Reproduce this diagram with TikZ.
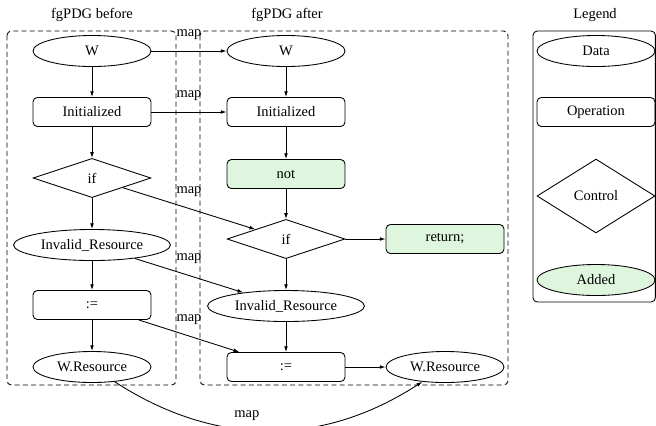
\documentclass[tikz,border=0pt]{standalone}
\usepackage{fontspec}
\setmainfont{Liberation Serif}
\usetikzlibrary{shapes.geometric,arrows.meta}
\definecolor{addgreen}{RGB}{221,246,221}
\begin{document}
\begin{tikzpicture}[x=0.69pt,y=-0.69pt,
  every node/.style={font=\fontsize{10}{12}\selectfont},
  base/.style={draw, line width=0.6pt, minimum width=81.4pt, inner sep=2pt},
  data/.style={base, ellipse, minimum height=21.4pt, inner xsep=3pt, inner ysep=1pt},
  oper/.style={base, rectangle, rounded corners=3pt, minimum height=20pt},
  ctrl/.style={base, diamond, minimum height=27pt, aspect=3},
  added/.style={fill=addgreen},
  arr/.style={-{Latex[length=4pt,width=2.6pt]}, line width=0.6pt},
  grp/.style={draw, dash pattern=on 3.4pt off 2.3pt, rounded corners=3pt, line width=0.6pt},
  legbox/.style={draw, rounded corners=3pt, line width=0.6pt},
  maplbl/.style={midway, yshift=11.5pt, inner sep=0pt},
  ttl/.style={inner sep=0pt}
]
\useasboundingbox (0,0) rectangle (656,425);

% group frames
\draw[grp] (7,31) rectangle (176,385);
\draw[grp] (200,31) rectangle (508,385);
\draw[legbox] (533,31) rectangle (655.4,302);

% titles
\node[ttl] (t1) at (92,15) {fgPDG before};
\node[ttl] (t2) at (287,15) {fgPDG after};
\node[ttl] (t3) at (595,15) {Legend};

% before
\node[data] (w1) at (92,51) {W};
\node[oper] (i1) at (92,112) {Initialized};
\node[ctrl] (if1) at (92,178) {if};
\node[data] (ir1) at (92,245) {Invalid\_Resource};
\node[oper] (as1) at (92,305) {:=};
\node[data] (wr1) at (92,367) {W.Resource};

% after
\node[data] (w2) at (286,51) {W};
\node[oper] (i2) at (286,112) {Initialized};
\node[oper, added] (n2) at (286,174) {not};
\node[ctrl] (if2) at (286,239) {if};
\node[oper, added] (r2) at (445,239) {return;};
\node[data] (ir2) at (286,306) {Invalid\_Resource};
\node[oper] (as2) at (286,367) {:=};
\node[data] (wr2) at (445,367) {W.Resource};

% legend
\node[data] (ld) at (596,51) {Data};
\node[oper] (lo) at (596,112) {Operation};
\node[ctrl, minimum height=51pt] (lc) at (596,196) {Control};
\node[data, added] (la) at (596,280) {Added};

% before edges
\draw[arr] (w1) -- (i1);
\draw[arr] (i1) -- (if1);
\draw[arr] (if1) -- (ir1);
\draw[arr] (ir1) -- (as1);
\draw[arr] (as1) -- (wr1);

% after edges
\draw[arr] (w2) -- (i2);
\draw[arr] (i2) -- (n2);
\draw[arr] (n2) -- (if2);
\draw[arr] (if2) -- (r2);
\draw[arr] (if2) -- (ir2);
\draw[arr] (ir2) -- (as2);
\draw[arr] (as2) -- (wr2);

% map edges
\draw[arr] (w1) -- node[maplbl] (m1) {map} (w2);
\draw[arr] (i1) -- node[maplbl] (m2) {map} (i2);
\draw[arr] (if1) -- node[maplbl] (m3) {map} (if2);
\draw[arr] (ir1) -- node[maplbl] (m4) {map} (ir2);
\draw[arr] (as1) -- node[maplbl] (m5) {map} (as2);
\draw[arr] (wr1) to[bend right=33] node[pos=0.43, yshift=10pt, inner sep=0pt] (m6) {map} (wr2);
\end{tikzpicture}
\end{document}
